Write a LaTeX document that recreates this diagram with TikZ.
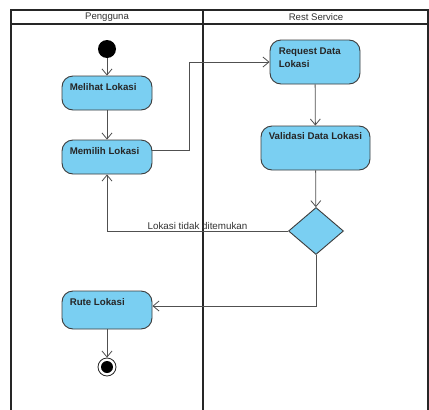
\documentclass[tikz,border=0pt]{standalone}
\usepackage{fontspec}
\setmainfont{Liberation Sans}
\usetikzlibrary{arrows.meta,shapes.geometric}
\definecolor{actfill}{HTML}{7ACFF2}
\definecolor{actline}{HTML}{3C3C3C}
\definecolor{flowline}{HTML}{505050}
\tikzset{
  actbox/.style={draw=actline, line width=0.9pt, fill=actfill, rounded corners=11pt, inner sep=0pt},
  acttext/.style={anchor=north west, inner sep=0pt, align=left, font=\fontsize{9.7}{13}\selectfont\bfseries, text=black!85},
  flow/.style={draw=flowline, line width=0.8pt, -{Straight Barb[length=6pt,width=10pt,line width=0.8pt]}},
  lane/.style={draw=black!85, line width=1.3pt},
  hdr/.style={font=\fontsize{9.6}{11}\selectfont, text=black!80, inner sep=0pt},
}
\begin{document}
\begin{tikzpicture}[x=1pt,y=-1pt]
\useasboundingbox (0,0) rectangle (429,410);
\fill[white] (0,0) rectangle (429,410);
% swimlanes
\draw[lane] (11,410) -- (11,10) -- (428,10) -- (428,410);
\draw[lane] (11,24) -- (428,24);
\draw[lane, line width=1.8pt] (203,10) -- (203,410);
\node[hdr] (h1) at (107,17.5) {Pengguna};
\node[hdr] (h2) at (316,17.5) {Rest Service};
% nodes
\node[circle, fill=black, minimum size=18pt, inner sep=0pt] (start) at (107,49) {};
\node[actbox, minimum width=90pt, minimum height=34pt] (melihat) at (107,93) {};
\node[acttext] (t1) at ([shift={(8,8)}]melihat.north west) {Melihat Lokasi};
\node[actbox, minimum width=90pt, minimum height=34pt] (memilih) at (107,157) {};
\node[acttext] (t2) at ([shift={(8,8)}]memilih.north west) {Memilih Lokasi};
\node[actbox, minimum width=90pt, minimum height=44pt] (request) at (315,62) {};
\node[acttext] (t3) at ([shift={(9,8.5)}]request.north west) {Request Data\\Lokasi};
\node[actbox, minimum width=109pt, minimum height=44pt] (validasi) at (315.5,148) {};
\node[acttext] (t4) at ([shift={(8,7)}]validasi.north west) {Validasi Data Lokasi};
\node[diamond, draw=actline, line width=0.9pt, fill=actfill, minimum width=55pt, minimum height=47pt, inner sep=0pt] (dec) at (316,231) {};
\node[actbox, minimum width=90pt, minimum height=38pt] (rute) at (107,310) {};
\node[acttext] (t5) at ([shift={(8,8)}]rute.north west) {Rute Lokasi};
\node[circle, draw=black!85, line width=0.8pt, fill=white, minimum size=18pt, inner sep=0pt] (end) at (107,367) {};
\node[circle, fill=black, minimum size=12pt, inner sep=0pt] (endin) at (end.center) {};
% flows
\draw[flow] (start) -- (melihat);
\draw[flow] (melihat) -- (memilih);
\draw[flow] ([yshift=7pt]memilih.east) -- ++(37,0) |- (request.west);
\draw[flow] (request) -- (validasi);
\draw[flow] (validasi) -- (dec);
\draw[flow] (dec.west) -| (memilih.south)
  node[pos=0.25, above=1.5pt, font=\fontsize{9.8}{11}\selectfont, text=black!80, inner sep=0pt] (lbl) {Lokasi tidak ditemukan};
\draw[flow] (dec.south) |- ([yshift=4pt]rute.east);
\draw[flow] (rute) -- (end);
\end{tikzpicture}
\end{document}
